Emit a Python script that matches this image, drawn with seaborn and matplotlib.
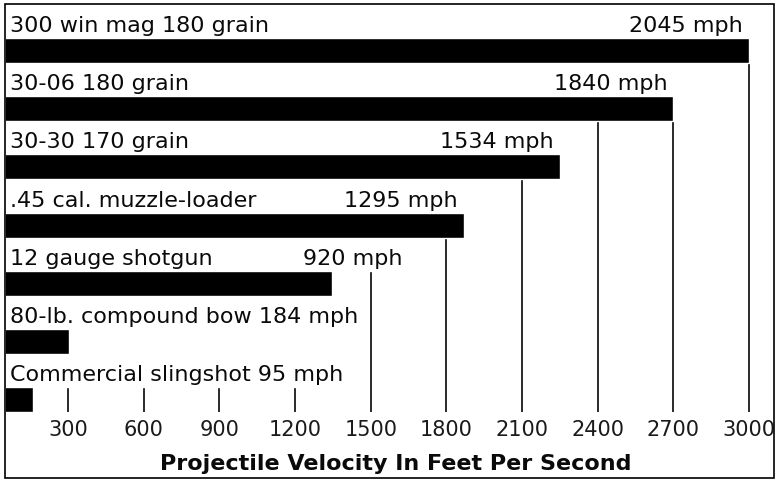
import numpy as np
import matplotlib
matplotlib.use("Agg")
import matplotlib.pyplot as plt
from matplotlib.patches import Rectangle
import seaborn as sns

# data
names = ["300 win mag 180 grain", "30-06 180 grain", "30-30 170 grain",
         ".45 cal. muzzle-loader", "12 gauge shotgun",
         "80-lb. compound bow", "Commercial slingshot"]
fps = [3000, 2700, 2250, 1870, 1345, 305, 160]
mph = [2045, 1840, 1534, 1295, 920, 184, 95]
ticks = [300, 600, 900, 1200, 1500, 1800, 2100, 2400, 2700, 3000]
xlabel = "Projectile Velocity In Feet Per Second"

W, H = 778, 480
sns.set_theme(style="white")
plt.rcParams["font.family"] = ["DejaVu Sans"]

fig = plt.figure(figsize=(W / 100, H / 100), dpi=100)
# axes area in pixels: left 6, right 773, top 4, bottom 412
ax = fig.add_axes([6 / W, 1 - 412 / H, 767 / W, 408 / H])

sns.barplot(x=fps, y=names, orient="h", color="black", saturation=1,
            width=0.43, ax=ax, zorder=3)

ax.set_xlim(54, 3095)
ax.set_ylim(6.21, -0.80)
ax.set_xticks(ticks)
ax.set_xticklabels([str(t) for t in ticks])
ax.set_yticks([])
ax.set_xlabel("")
ax.set_ylabel("")
for s in ax.spines.values():
    s.set_visible(False)
ax.set_axisbelow(True)
ax.grid(axis="x", color="#2a2a2a", linewidth=1.4)
ax.grid(axis="y", visible=False)
ax.tick_params(axis="x", length=0, pad=6, labelsize=15, labelcolor="#1a1a1a")

# labels above each bar
shift_px = {4: 71}  # the 12 gauge value label sits right of its bar
label_texts = []
for i, (n, v, m) in enumerate(zip(names, fps, mph)):
    y = i - 0.32
    if v < 1000:
        t = ax.text(0.005, y, f"{n} {m} mph", transform=ax.get_yaxis_transform(),
                    ha="left", va="baseline", fontsize=16, color="#0a0a0a", zorder=4)
        label_texts.append(t)
    else:
        ax.text(0.005, y, n, transform=ax.get_yaxis_transform(),
                ha="left", va="baseline", fontsize=16, color="#0a0a0a", zorder=4)
        off = shift_px.get(i, -6) * 72 / 100
        t = ax.annotate(f"{m} mph", xy=(v, y), xytext=(off, 0),
                        textcoords="offset points", ha="right", va="baseline",
                        fontsize=16, color="#0a0a0a", zorder=4)
        label_texts.append(t)

# white strip behind each label row (reaching up over the bar row above)
# hides the grid lines, as in the original
fig.canvas.draw()
r = fig.canvas.get_renderer()
inv = ax.transData.inverted()
x0 = ax.get_xlim()[0]
for i, (t, v) in enumerate(zip(label_texts, fps)):
    text_end = t.get_window_extent(r).x1
    bar_end = ax.transData.transform((v, 0))[0]
    xend = inv.transform((max(text_end, bar_end) + 4, 0))[0]
    ax.barh(i - 0.715, xend - x0, left=x0, height=1.0, color="white", zorder=2)

fig.text(396 / W, 1 - 470 / H, xlabel, ha="center", va="baseline",
         fontsize=16, fontweight="bold", color="#0a0a0a")

fig.add_artist(Rectangle((5 / W, 2 / H), 769 / W, 474 / H, transform=fig.transFigure,
                         fill=False, lw=1.2, ec="black"))

fig.savefig("out.png", dpi=100)
